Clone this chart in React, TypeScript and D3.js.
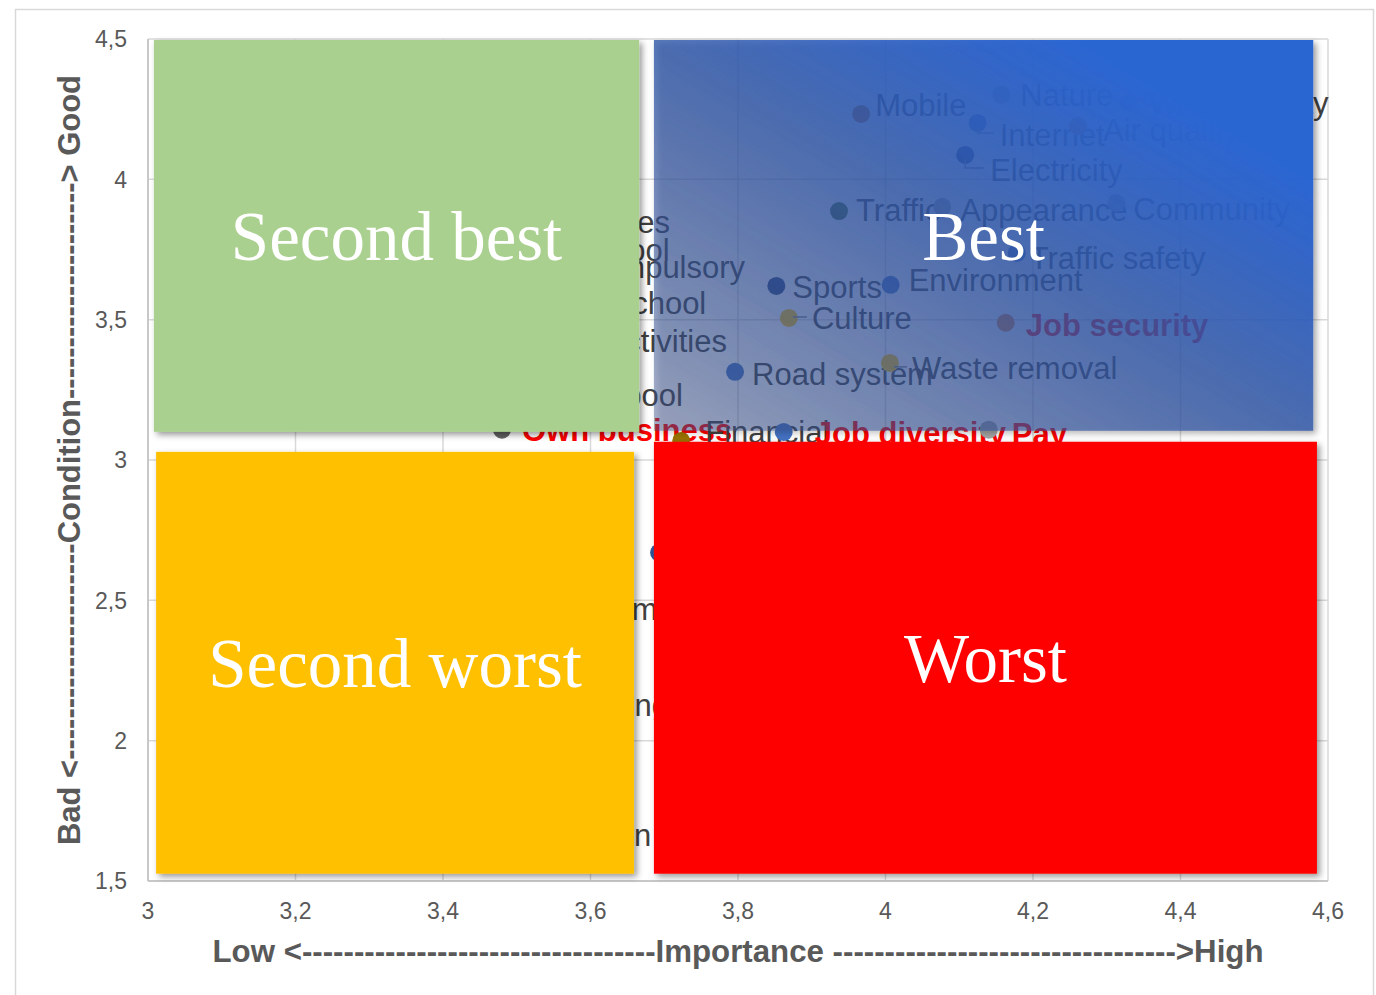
import React from 'react';
import * as d3 from 'd3';

// ---------- data ----------
const xTickValues = [3, 3.2, 3.4, 3.6, 3.8, 4, 4.2, 4.4, 4.6];
const yTickValues = [1.5, 2, 2.5, 3, 3.5, 4, 4.5];

const items = [
  'Mobile', 'Nature', 'Internet', 'Air quality', 'Water quality', 'Electricity',
  'Traffic', 'Appearance', 'Community', 'Traffic safety', 'Sports', 'Environment',
  'Culture', 'Job security', 'Road system', 'Waste removal', 'Public services',
  'Preschool', 'Compulsory', 'High school', 'Leisure activities', 'Swimming pool',
  'Own business', 'Financial', 'Job diversity', 'Pay', 'Health care', 'Immigration',
  'Housing', 'Education',
];
const importance = [
  3.967, 4.157, 4.125, 4.261, 4.33, 4.108,
  3.937, 4.077, 4.313, 4.178, 3.852, 4.007,
  3.869, 4.163, 3.796, 4.006, 3.407,
  3.5, 3.565, 3.517, 3.454, 3.42,
  3.48, 3.723, 3.862, 4.14, 3.693, 3.624,
  3.532, 3.475,
];
const condition = [
  4.233, 4.301, 4.201, 4.19, 4.272, 4.087,
  3.887, 3.902, 3.916, 3.738, 3.62, 3.624,
  3.506, 3.489, 3.314, 3.346, 3.848,
  3.749, 3.688, 3.56, 3.424, 3.232,
  3.108, 3.068, 3.1, 3.108, 2.67, 2.467,
  2.128, 1.665,
];
const highlighted = ['Job security', 'Own business', 'Job diversity', 'Pay'];

const quadrantNames = ['Second best', 'Best', 'Second worst', 'Worst'];
const quadrantXFrom = [3.008, 3.686, 3.011, 3.686];
const quadrantXTo = [3.666, 4.58, 3.659, 4.585];
const quadrantYFrom = [3.1004, 3.104, 1.526, 1.526];
const quadrantYTo = [4.4964, 4.4964, 3.029, 3.065];

const xTitle = 'Low <' + '-'.repeat(34) + 'Importance ' + '-'.repeat(33) + '>High';
const yTitle = 'Bad  <' + '-'.repeat(21) + 'Condition' + '-'.repeat(21) + '> Good';

// ---------- styles / layout ----------
const pointColors: Record<string, string> = {
  Mobile: '#c55a11', Nature: '#a5a5a5', Internet: '#4472c4', 'Air quality': '#ed7d31',
  'Water quality': '#5b9bd5', Electricity: '#264478', Traffic: '#43682b',
  Appearance: '#a5a5a5', Community: '#a5a5a5', 'Traffic safety': '#4472c4',
  Sports: '#264478', Environment: '#4472c4', Culture: '#ffc000',
  'Job security': '#ed7d31', 'Road system': '#4472c4', 'Waste removal': '#ffc000',
  'Own business': '#636363', Financial: '#997300', 'Job diversity': '#4472c4',
  Pay: '#a5a5a5', 'Health care': '#2f5597',
};
const labelNudge: Record<string, [number, number]> = {
  Mobile: [14, -9], Nature: [19, 0], Internet: [22, 12], 'Air quality': [25, 4],
  'Water quality': [20, 0], Electricity: [25, 15], Traffic: [17, -1],
  Appearance: [18, 3], Community: [17, 6], 'Traffic safety': [13, 5],
  Sports: [16, 1], Environment: [18, -5], Culture: [23, 0], 'Job security': [20, 2],
  'Road system': [17, 2], 'Waste removal': [22, 5], 'Own business': [20, 0],
  Financial: [24, -9], 'Job diversity': [31, 1], Pay: [23, 4],
};
const leaderLabels = ['Internet', 'Electricity', 'Culture', 'Waste removal'];
const quadrantFills = ['#a9d08e', 'url(#bestGrad)', '#ffc000', '#ff0000'];

const W = 1376;
const H = 995;

export default function App() {
  const x = d3.scaleLinear().domain([3, 4.6]).range([148, 1328]);
  const y = d3.scaleLinear().domain([1.5, 4.5]).range([881, 39]);
  const sans = "'Liberation Sans', Arial, sans-serif";
  const fmt = (v: number) => String(v).replace('.', ',');

  const pts = items.map((name, i) => ({ name, cx: x(importance[i]), cy: y(condition[i]) }));

  return (
    <svg width={W} height={H} style={{ position: 'absolute', left: 0, top: 0, background: '#fff' }}
      xmlns="http://www.w3.org/2000/svg">
      <defs>
        <linearGradient id="bestGrad" x1="0" y1="1" x2="1" y2="0">
          <stop offset="0" stopColor="#3b5088" stopOpacity={0.42} />
          <stop offset="0.5" stopColor="#2f57a8" stopOpacity={0.8} />
          <stop offset="0.7" stopColor="#2c60c4" stopOpacity={0.93} />
          <stop offset="0.82" stopColor="#2c66d2" stopOpacity={1} />
          <stop offset="1" stopColor="#2c66d2" stopOpacity={1} />
        </linearGradient>
        <filter id="shadow" x="-5%" y="-5%" width="115%" height="115%">
          <feDropShadow dx="3" dy="3" stdDeviation="3" floodColor="#000" floodOpacity="0.4" />
        </filter>
      </defs>

      <rect x={15.5} y={9.5} width={1358} height={1000} fill="#fff" stroke="#d9d9d9" strokeWidth={1.5} />

      {/* gridlines */}
      {yTickValues.map((t) => (
        <line key={'gy' + t} x1={x(3)} x2={x(4.6)} y1={y(t)} y2={y(t)} stroke="#d9d9d9" strokeWidth={1.5} />
      ))}
      {xTickValues.map((t) => (
        <line key={'gx' + t} x1={x(t)} x2={x(t)} y1={y(1.5)} y2={y(4.5)} stroke="#d9d9d9" strokeWidth={1.5} />
      ))}
      <line x1={x(3)} x2={x(3)} y1={y(1.5)} y2={y(4.5)} stroke="#bfbfbf" strokeWidth={1.5} />
      <line x1={x(3)} x2={x(4.6)} y1={y(1.5)} y2={y(1.5)} stroke="#bfbfbf" strokeWidth={1.5} />

      {/* tick labels */}
      {xTickValues.map((t) => (
        <text key={'tx' + t} x={x(t)} y={919} textAnchor="middle" fontFamily={sans} fontSize={23} fill="#595959">
          {fmt(t)}
        </text>
      ))}
      {yTickValues.map((t) => (
        <text key={'ty' + t} x={127} y={y(t)} dy="0.36em" textAnchor="end" fontFamily={sans} fontSize={23} fill="#595959">
          {fmt(t)}
        </text>
      ))}

      {/* points */}
      {pts.map((p) => {
        const [dx, dy] = labelNudge[p.name] || [15, 0];
        const red = highlighted.includes(p.name);
        return (
          <g key={p.name}>
            <circle cx={p.cx} cy={p.cy} r={9} fill={pointColors[p.name] || '#4472c4'} />
            {leaderLabels.includes(p.name) && (
              <path
                d={dy > 8
                  ? `M${p.cx},${p.cy + 4}V${p.cy + dy - 2}H${p.cx + dx - 6}`
                  : `M${p.cx + 4},${p.cy + dy - 1}H${p.cx + dx - 5}`}
                fill="none" stroke="#7f7f7f" strokeWidth={1.5}
              />
            )}
            <text x={p.cx + dx} y={p.cy + dy} dy="0.35em" fontFamily={sans} fontSize={31}
              fontWeight={red ? 'bold' : 'normal'} fill={red ? '#ff0000' : '#404040'}>
              {p.name}
            </text>
          </g>
        );
      })}

      {/* quadrant shapes */}
      {quadrantNames.map((q, i) => {
        const x0 = x(quadrantXFrom[i]);
        const x1 = x(quadrantXTo[i]);
        const y0 = y(quadrantYTo[i]);
        const y1 = y(quadrantYFrom[i]);
        return (
          <g key={q}>
            <rect x={x0} y={y0} width={x1 - x0} height={y1 - y0} fill={quadrantFills[i]} filter="url(#shadow)" />
            <text x={(x0 + x1) / 2} y={(y0 + y1) / 2} dy="0.35em" textAnchor="middle"
              fontFamily="'Liberation Serif', 'Times New Roman', serif" fontSize={69} fill="#fff">
              {q}
            </text>
          </g>
        );
      })}

      {/* axis titles */}
      <text x={(x(3) + x(4.6)) / 2} y={962} textAnchor="middle" fontFamily={sans} fontSize={31}
        fontWeight="bold" fill="#595959" textLength={1051} lengthAdjust="spacingAndGlyphs">
        {xTitle}
      </text>
      <text transform={`translate(80, ${(75 + 845) / 2}) rotate(-90)`} textAnchor="middle" fontFamily={sans}
        fontSize={31} fontWeight="bold" fill="#595959" textLength={770} lengthAdjust="spacingAndGlyphs">
        {yTitle}
      </text>
    </svg>
  );
}
